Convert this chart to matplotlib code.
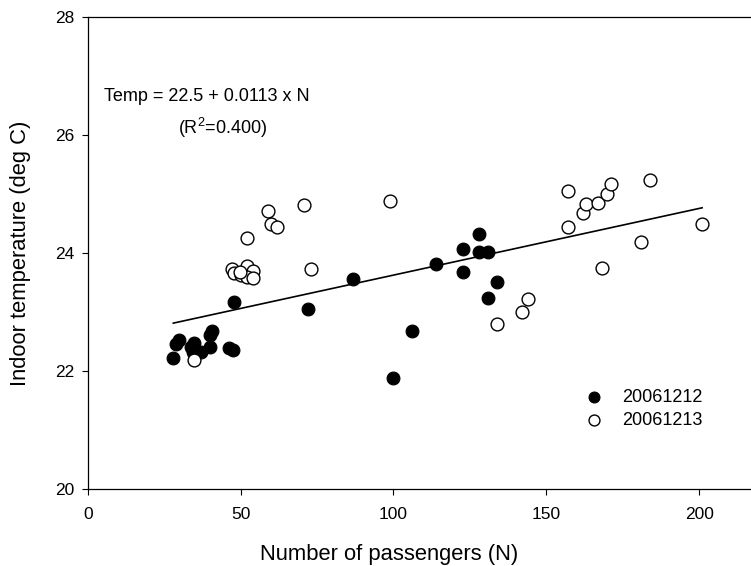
import matplotlib
matplotlib.use("Agg")
import matplotlib.pyplot as plt

plt.rcParams["font.family"] = ["Liberation Sans", "DejaVu Sans"]
plt.rcParams["mathtext.fontset"] = "custom"
plt.rcParams["mathtext.rm"] = "Liberation Sans"
plt.rcParams["mathtext.it"] = "Liberation Sans"

# 20061212 (filled)
n_1212 = [47.9, 30.0, 28.9, 28.0, 34.9, 33.7, 34.5, 37.1, 40.0, 40.7, 40.0, 46.2, 47.4,
          86.9, 72.0, 113.9, 122.9, 127.9, 127.9, 130.9, 122.9, 133.8, 130.9, 106.0, 100.0]
t_1212 = [23.18, 22.53, 22.46, 22.22, 22.48, 22.41, 22.33, 22.32, 22.41, 22.69, 22.62, 22.40, 22.36,
          23.56, 23.06, 23.82, 24.08, 24.33, 24.02, 24.03, 23.68, 23.52, 23.24, 22.69, 21.89]

# 20061213 (open)
n_1213 = [34.8, 58.9, 59.9, 62.0, 52.0, 47.1, 47.9, 52.0, 54.0, 50.0, 52.0, 54.0, 49.9,
          70.9, 99.0, 72.9, 133.8, 142.0, 144.0, 157.0, 157.0, 162.1, 163.0, 167.0,
          170.0, 171.1, 183.9, 180.9, 168.1, 201.0]
t_1213 = [22.20, 24.72, 24.49, 24.44, 24.26, 23.73, 23.67, 23.78, 23.70, 23.63, 23.59, 23.58, 23.68,
          24.82, 24.89, 23.73, 22.80, 23.00, 23.23, 25.06, 24.44, 24.69, 24.83, 24.86,
          25.00, 25.17, 25.24, 24.20, 23.75, 24.49]

intercept = 22.5
slope = 0.0113
fit_x = [28.0, 201.0]
fit_y = [intercept + slope * v for v in fit_x]

fig = plt.figure(figsize=(7.51, 5.66), dpi=100)
ax = fig.add_axes([87.7 / 751, 76.7 / 566, 672.5 / 751, 472 / 566])

ax.plot(fit_x, fit_y, color="black", lw=1.2, zorder=2)
ax.scatter(n_1212, t_1212, s=85, c="black", edgecolors="black", linewidths=0.8,
           zorder=3, label="20061212")
ax.scatter(n_1213, t_1213, s=85, c="white", edgecolors="black", linewidths=1.0,
           zorder=3, label="20061213")

ax.set_xlim(0, 220)
ax.set_ylim(20, 28)
ax.set_xticks([0, 50, 100, 150, 200])
ax.set_yticks([20, 22, 24, 26, 28])
ax.tick_params(direction="out", length=4.5, width=0.8, labelsize=12.5)
ax.tick_params(axis="y", pad=5)
ax.tick_params(axis="x", pad=8)
ax.spines["right"].set_visible(False)
for s in ["left", "bottom", "top"]:
    ax.spines[s].set_linewidth(0.9)

ax.set_xlabel("Number of passengers (N)", fontsize=15.8)
ax.set_ylabel("Indoor temperature (deg C)", fontsize=15.8)
ax.xaxis.set_label_coords(0.448, -0.115)
ax.yaxis.set_label_coords(-0.084, 0.5)

ax.text(39, 26.65, "Temp = 22.5 + 0.0113 x N", fontsize=13, ha="center", va="center")
ax.text(44, 26.13, "(R$^{2}$=0.400)", fontsize=13, ha="center", va="center")

ax.legend(loc="center left", bbox_to_anchor=(0.72, 0.17), frameon=False,
          fontsize=13, markerscale=0.85, handletextpad=0.8, labelspacing=0.35,
          borderpad=0, handlelength=1.5)

fig.savefig("out.png", dpi=100)
